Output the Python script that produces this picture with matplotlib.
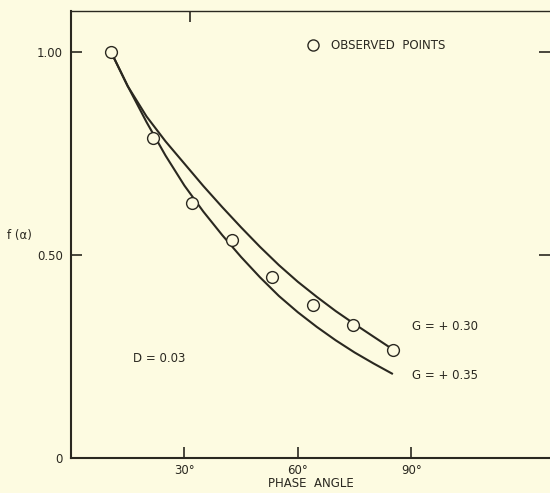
import numpy as np
import matplotlib.pyplot as plt

# observed points (phase angle in degrees, f(alpha))
obs_x = [10.5, 21.6, 32.1, 42.6, 53.2, 64.0, 74.6, 85.2]
obs_y = [1.00, 0.788, 0.628, 0.537, 0.446, 0.377, 0.328, 0.266]

# curve G = +0.30
g30_x = [10.6, 15, 20, 25, 30, 35, 40, 45, 50, 55, 60, 65, 70, 75, 80, 85.2]
g30_y = [1.00, 0.916, 0.841, 0.780, 0.725, 0.670, 0.618, 0.568, 0.520, 0.475,
         0.434, 0.397, 0.362, 0.330, 0.299, 0.267]

# curve G = +0.35
g35_x = [10.6, 15, 20, 25, 30, 35, 40, 45, 50, 55, 60, 65, 70, 75, 80, 84.9]
g35_y = [1.00, 0.916, 0.827, 0.745, 0.671, 0.607, 0.549, 0.495, 0.445, 0.399,
         0.359, 0.323, 0.290, 0.260, 0.233, 0.208]

x_ticks = [30, 60, 90]
x_labels = ['30°', '60°', '90°']
y_ticks = [0, 0.5, 1.0]
y_labels = ['0', '0.50', '1.00']

bg = '#fdfbe1'
ink = '#2a2820'

plt.rcParams['font.family'] = ['DejaVu Sans']
fig = plt.figure(figsize=(5.5, 4.93), dpi=100, facecolor=bg)
ax = fig.add_axes([71 / 550, 35 / 493, 479 / 550, 447 / 493])
ax.set_facecolor(bg)

ax.plot(g30_x, g30_y, color=ink, lw=1.5)
ax.plot(g35_x, g35_y, color=ink, lw=1.5)
ax.plot(obs_x, obs_y, 'o', ms=8.5, mfc=bg, mec=ink, mew=1.0, zorder=3)

ax.set_xlim(0, 126.7)
ax.set_ylim(0, 1.101)

for s in ['left', 'bottom']:
    ax.spines[s].set_linewidth(1.5)
    ax.spines[s].set_color(ink)
ax.spines['top'].set_linewidth(1.0)
ax.spines['top'].set_color(ink)
ax.spines['right'].set_visible(False)

ax.set_xticks(x_ticks)
ax.set_xticklabels(x_labels)
ax.set_yticks(y_ticks)
ax.set_yticklabels(y_labels)
ax.tick_params(axis='both', direction='in', length=8, width=1.2, color=ink,
               labelcolor=ink, labelsize=8.5)
ax.tick_params(axis='x', pad=4)
ax.tick_params(axis='y', pad=6, right=True, labelright=False)

# single tick on top border
top = ax.secondary_xaxis('top')
top.set_xticks([31.5])
top.set_xticklabels([''])
top.tick_params(direction='in', length=8, width=1.2, color=ink)
top.spines['top'].set_visible(False)

ax.set_xlabel('PHASE  ANGLE', fontsize=8.5, color=ink, labelpad=0)
fig.text(7 / 550, 1 - 236 / 493, 'f (α)', fontsize=8.5, color=ink, va='center', ha='left')

ax.plot([64.0], [1.0165], 'o', ms=8, mfc=bg, mec=ink, mew=1.0, clip_on=False)
ax.text(68.8, 1.0165, 'OBSERVED  POINTS', fontsize=8.5, color=ink, va='center', ha='left')
ax.text(90.2, 0.323, 'G = + 0.30', fontsize=8.5, color=ink, va='center', ha='left')
ax.text(90.2, 0.202, 'G = + 0.35', fontsize=8.5, color=ink, va='center', ha='left')
ax.text(16.4, 0.244, 'D = 0.03', fontsize=8.5, color=ink, va='center', ha='left')

fig.savefig('out.png', dpi=100, facecolor=bg)
